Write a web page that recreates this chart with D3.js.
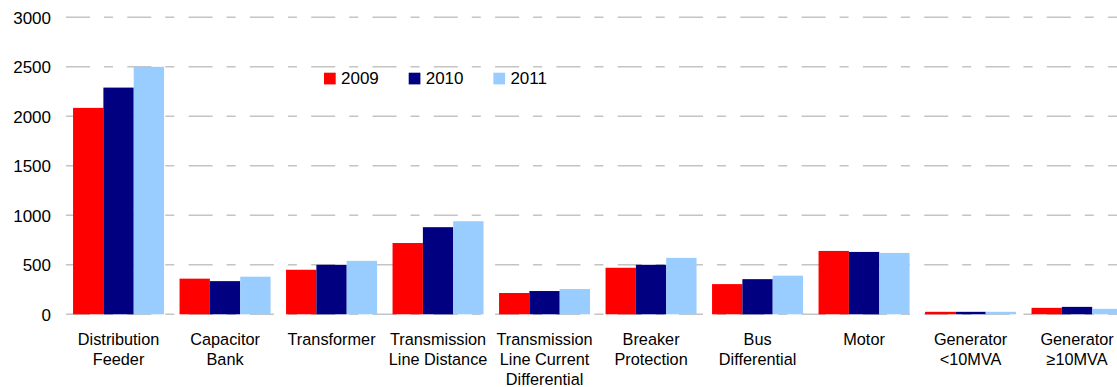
<!DOCTYPE html>
<html>
<head>
<meta charset="utf-8">
<script src="https://cdn.jsdelivr.net/npm/d3@7"></script>
<style>
  html, body { margin: 0; padding: 0; background: #ffffff; }
  svg { display: block; font-family: "Liberation Sans", Arial, sans-serif; }
</style>
</head>
<body>
<svg id="chart" width="1117" height="387"></svg>
<script>
// Relay operations by protection function, per year
const categories = [
  ["Distribution", "Feeder"],
  ["Capacitor", "Bank"],
  ["Transformer"],
  ["Transmission", "Line Distance"],
  ["Transmission", "Line Current", "Differential"],
  ["Breaker", "Protection"],
  ["Bus", "Differential"],
  ["Motor"],
  ["Generator", "<10MVA"],
  ["Generator", "\u226510MVA"]
];
const years = ["2009", "2010", "2011"];
const values2009 = [2085, 360, 450, 720, 215, 470, 305, 640, 25, 65];
const values2010 = [2290, 335, 500, 880, 235, 500, 355, 630, 25, 75];
const values2011 = [2500, 380, 540, 940, 255, 570, 390, 620, 25, 55];
const yTicks = [0, 500, 1000, 1500, 2000, 2500, 3000];
const colors = ["#ff0000", "#000080", "#99ccff"];

const series = [values2009, values2010, values2011];
const catKeys = categories.map(c => c.join(" "));

const svg = d3.select("#chart");

const x = d3.scaleBand()
  .domain(catKeys)
  .range([65.3, 1130.3])
  .paddingInner(0.1455)
  .paddingOuter(0.0728);

const xSub = d3.scaleBand()
  .domain(years)
  .range([0, x.bandwidth()]);

const y = d3.scaleLinear()
  .domain([0, 3000])
  .range([314.3, 17.3]);

// Dashed horizontal gridlines
svg.append("g")
  .selectAll("line")
  .data(yTicks)
  .join("line")
  .attr("x1", 66)
  .attr("x2", 1117)
  .attr("y1", d => y(d))
  .attr("y2", d => y(d))
  .attr("stroke", "#c4c4c4")
  .attr("stroke-width", 1.6)
  .attr("stroke-dasharray", "24,14,9,14.3");

// Y axis labels
const yAxis = d3.axisLeft(y)
  .tickValues(yTicks)
  .tickFormat(d3.format("d"))
  .tickSize(0)
  .tickPadding(0);
const yg = svg.append("g")
  .attr("transform", "translate(51,0)")
  .call(yAxis);
yg.select(".domain").remove();
yg.selectAll("text")
  .attr("font-family", "'Liberation Sans', Arial, sans-serif")
  .attr("font-size", 17)
  .attr("fill", "#000")
  .attr("dy", "0.36em");

// Bars
const groups = svg.append("g")
  .selectAll("g")
  .data(catKeys)
  .join("g")
  .attr("transform", d => `translate(${x(d)},0)`);

groups.selectAll("rect")
  .data((d, i) => years.map((yr, k) => ({ yr, k, v: series[k][i] })))
  .join("rect")
  .attr("x", d => xSub(d.yr))
  .attr("width", xSub.bandwidth())
  .attr("y", d => y(d.v))
  .attr("height", d => y(0) - y(d.v))
  .attr("fill", d => colors[d.k]);

// Category labels (multi-line)
const labels = svg.append("g")
  .selectAll("text")
  .data(categories)
  .join("text")
  .attr("text-anchor", "middle")
  .attr("font-size", 16.3)
  .attr("fill", "#000")
  .attr("transform", (d, i) => `translate(${x(catKeys[i]) + x.bandwidth() / 2},345)`);
labels.selectAll("tspan")
  .data(d => d)
  .join("tspan")
  .attr("x", 0)
  .attr("y", (d, i) => i * 20)
  .text(d => d);

// Legend
const legend = svg.append("g")
  .selectAll("g")
  .data(years)
  .join("g")
  .attr("transform", (d, i) => `translate(${324 + i * 84.7},72.7)`);
legend.append("rect")
  .attr("width", 11.7)
  .attr("height", 11.7)
  .attr("fill", (d, i) => colors[i]);
legend.append("text")
  .attr("x", 17)
  .attr("y", 11.6)
  .attr("font-size", 17)
  .attr("fill", "#000")
  .text(d => d);
</script>
</body>
</html>
